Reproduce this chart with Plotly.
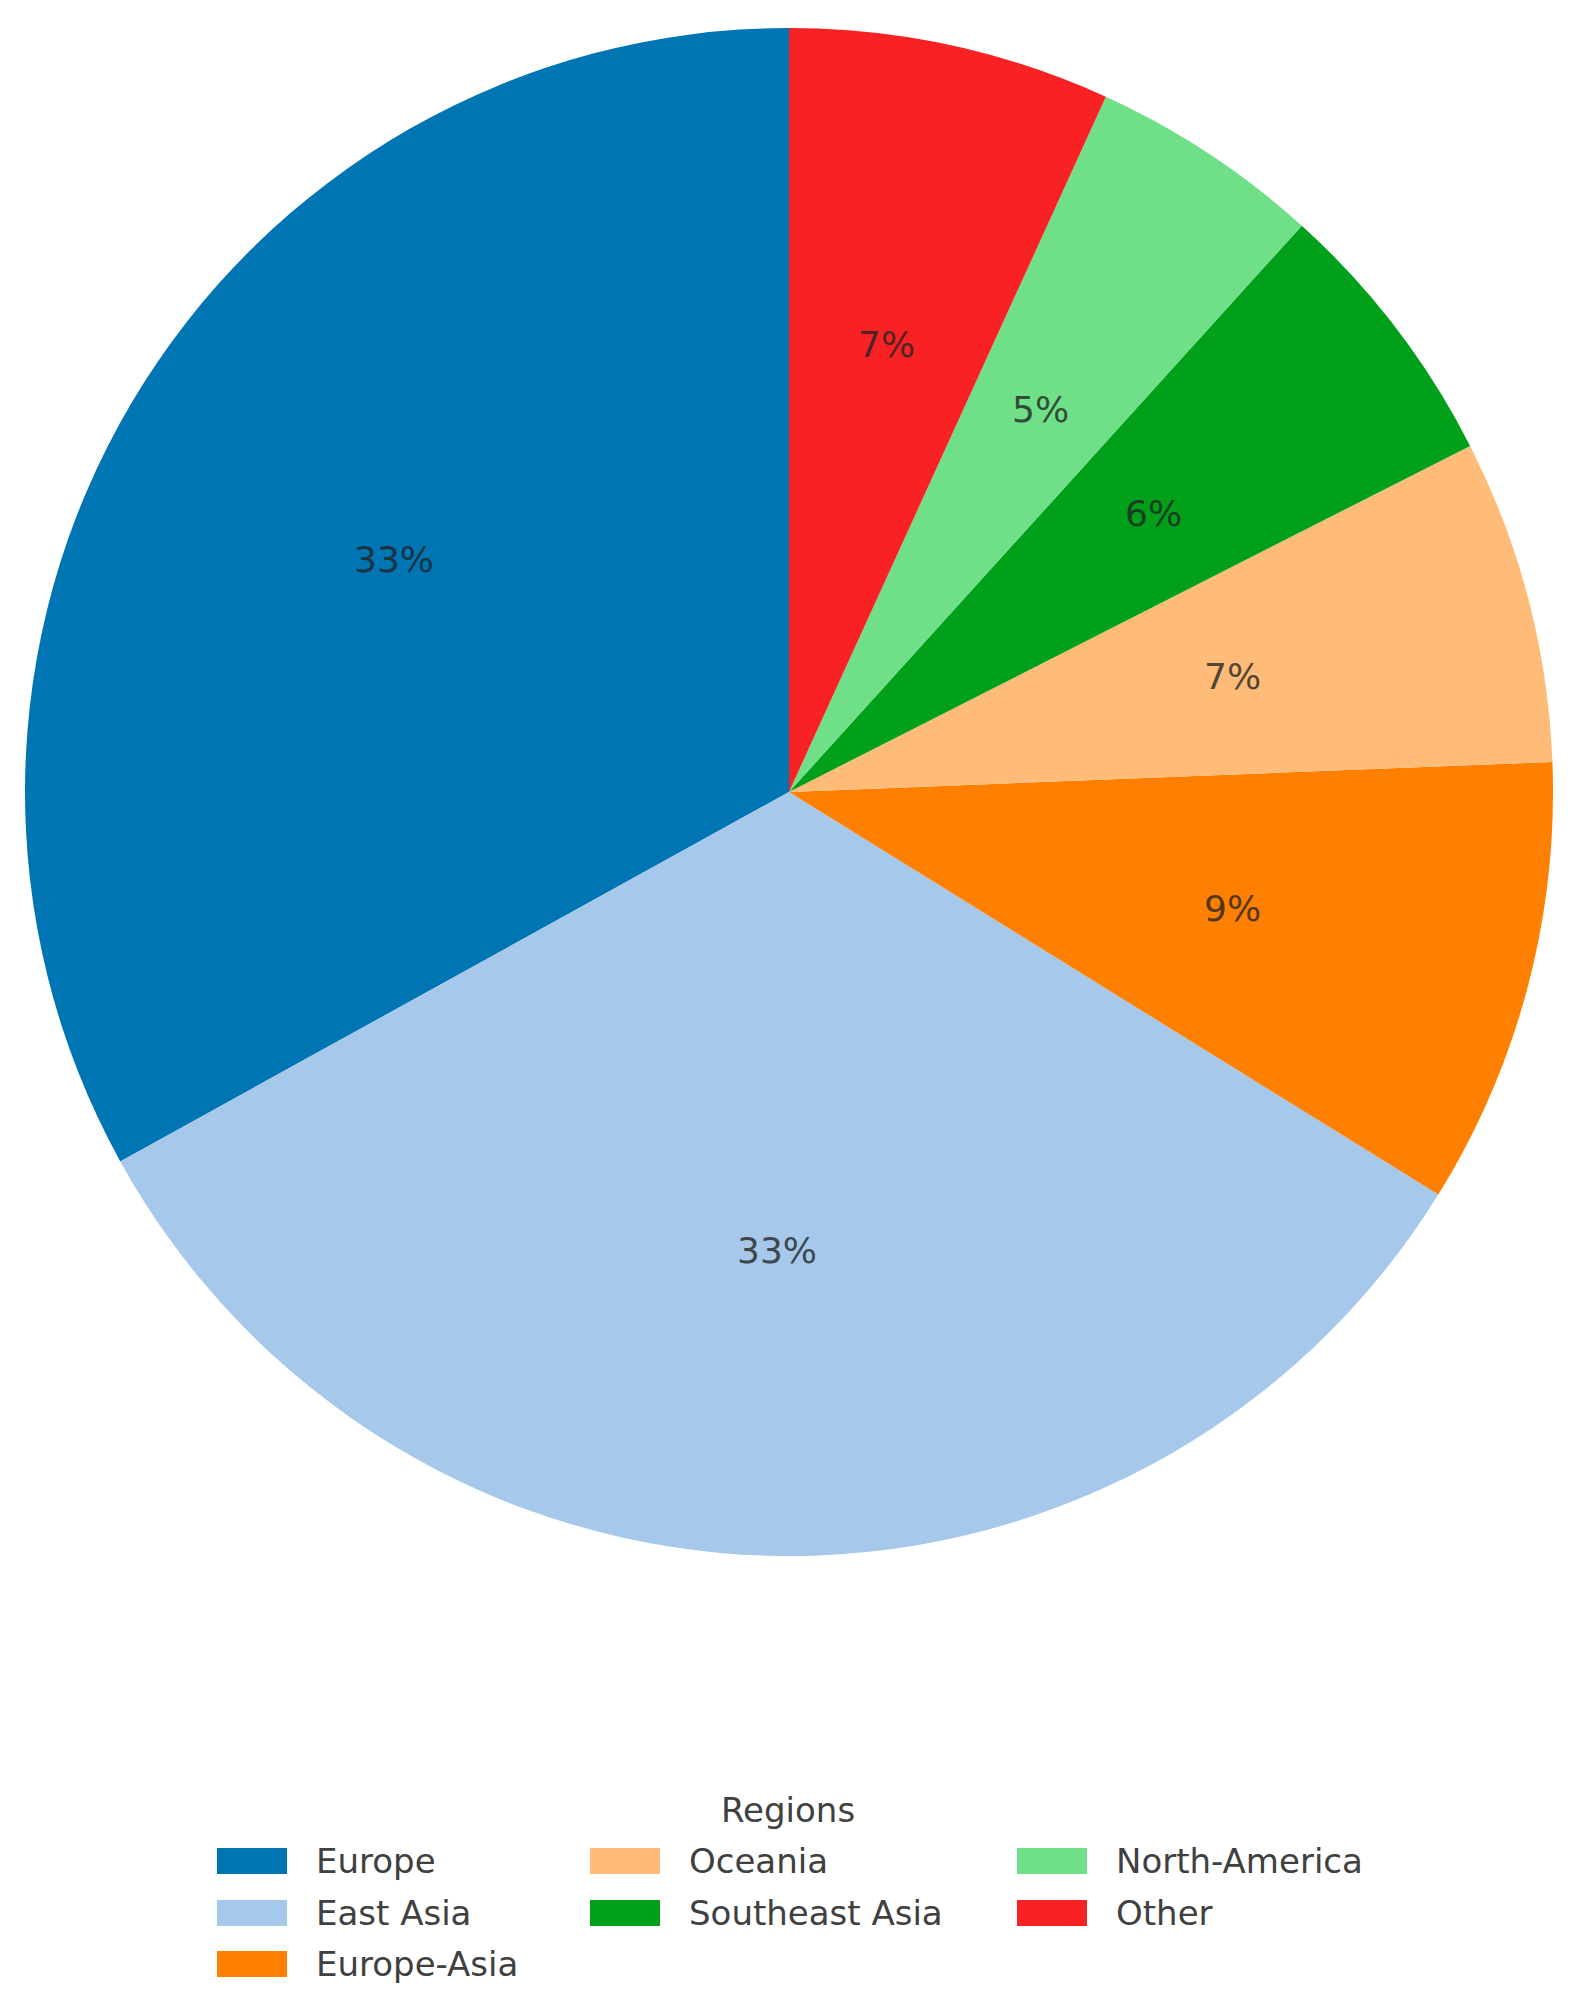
import math
import plotly.graph_objects as go

W, H = 1573, 2011
PAD = 8  # default body margin of the html page

# data
regions = ["Europe", "East Asia", "Europe-Asia", "Oceania", "Southeast Asia", "North-America", "Other"]
shares = [33.0, 33.1, 9.45, 6.85, 5.8, 4.9, 6.8]
colors = ["#0075b4", "#a6c8ea", "#ff7f00", "#ffbb78", "#00a01a", "#6fdf88", "#f82124"]
legend_title = "Regions"

# pie placement in screen pixels
cx, cy, r = 789, 792, 764
FONT = "DejaVu Sans"
FW, FH = W - 2 * PAD, H - 2 * PAD


def px(x):
    return (x - PAD) / FW


def py(y):
    return 1 - (y - PAD) / FH


total = sum(shares)

fig = go.Figure()
# plotly's counterclockwise pies end the first slice at the rotation angle,
# so turn back by the first slice to start Europe at 12 o'clock
fig.add_trace(go.Pie(
    labels=regions, values=shares,
    marker=dict(colors=colors, line=dict(width=0)),
    sort=False, direction="counterclockwise",
    rotation=-shares[0] / total * 360,
    textinfo="none", showlegend=False, hoverinfo="label+percent",
    domain=dict(x=[px(cx - r), px(cx + r)], y=[py(cy + r), py(cy - r)]),
))

# percentage labels at 0.6 of the radius, like matplotlib's pctdistance
start = 90.0
annotations = []
for v in shares:
    span = v / total * 360
    mid = math.radians(start + span / 2)
    start += span
    lx = cx + 0.6 * r * math.cos(mid)
    ly = cy - 0.6 * r * math.sin(mid)
    annotations.append(dict(
        x=px(lx), y=py(ly), xref="paper", yref="paper", showarrow=False,
        text=f"{round(v / total * 100)}%",
        font=dict(family=FONT, size=36, color="rgba(35,35,35,0.8)"),
        xanchor="center", yanchor="middle",
    ))

# legend drawn by hand: 3 columns, filled column by column (3, 2, 2)
cols = [0, 0, 0, 1, 1, 2, 2]
rows = [0, 1, 2, 0, 1, 0, 1]
col_x = [217, 590, 1017]
row_y = [1861, 1913, 1964]
sw, sh = 70, 26
shapes = []
for name, c, ci, ri in zip(regions, colors, cols, rows):
    x0 = col_x[ci]
    y0 = row_y[ri]
    shapes.append(dict(
        type="rect", xref="paper", yref="paper",
        x0=px(x0), x1=px(x0 + sw), y0=py(y0 + sh / 2), y1=py(y0 - sh / 2),
        fillcolor=c, line=dict(width=0),
    ))
    annotations.append(dict(
        x=px(x0 + 97), y=py(y0), xref="paper", yref="paper", showarrow=False,
        text=name, font=dict(family=FONT, size=34, color="#404040"),
        xanchor="left", yanchor="middle",
    ))
annotations.append(dict(
    x=px(788), y=py(1810), xref="paper", yref="paper", showarrow=False,
    text=legend_title, font=dict(family=FONT, size=34, color="#404040"),
    xanchor="center", yanchor="middle",
))

fig.update_layout(
    width=FW, height=FH,
    margin=dict(l=0, r=0, t=0, b=0),
    paper_bgcolor="white", plot_bgcolor="white",
    annotations=annotations, shapes=shapes,
)

fig.write_html("out.html")
